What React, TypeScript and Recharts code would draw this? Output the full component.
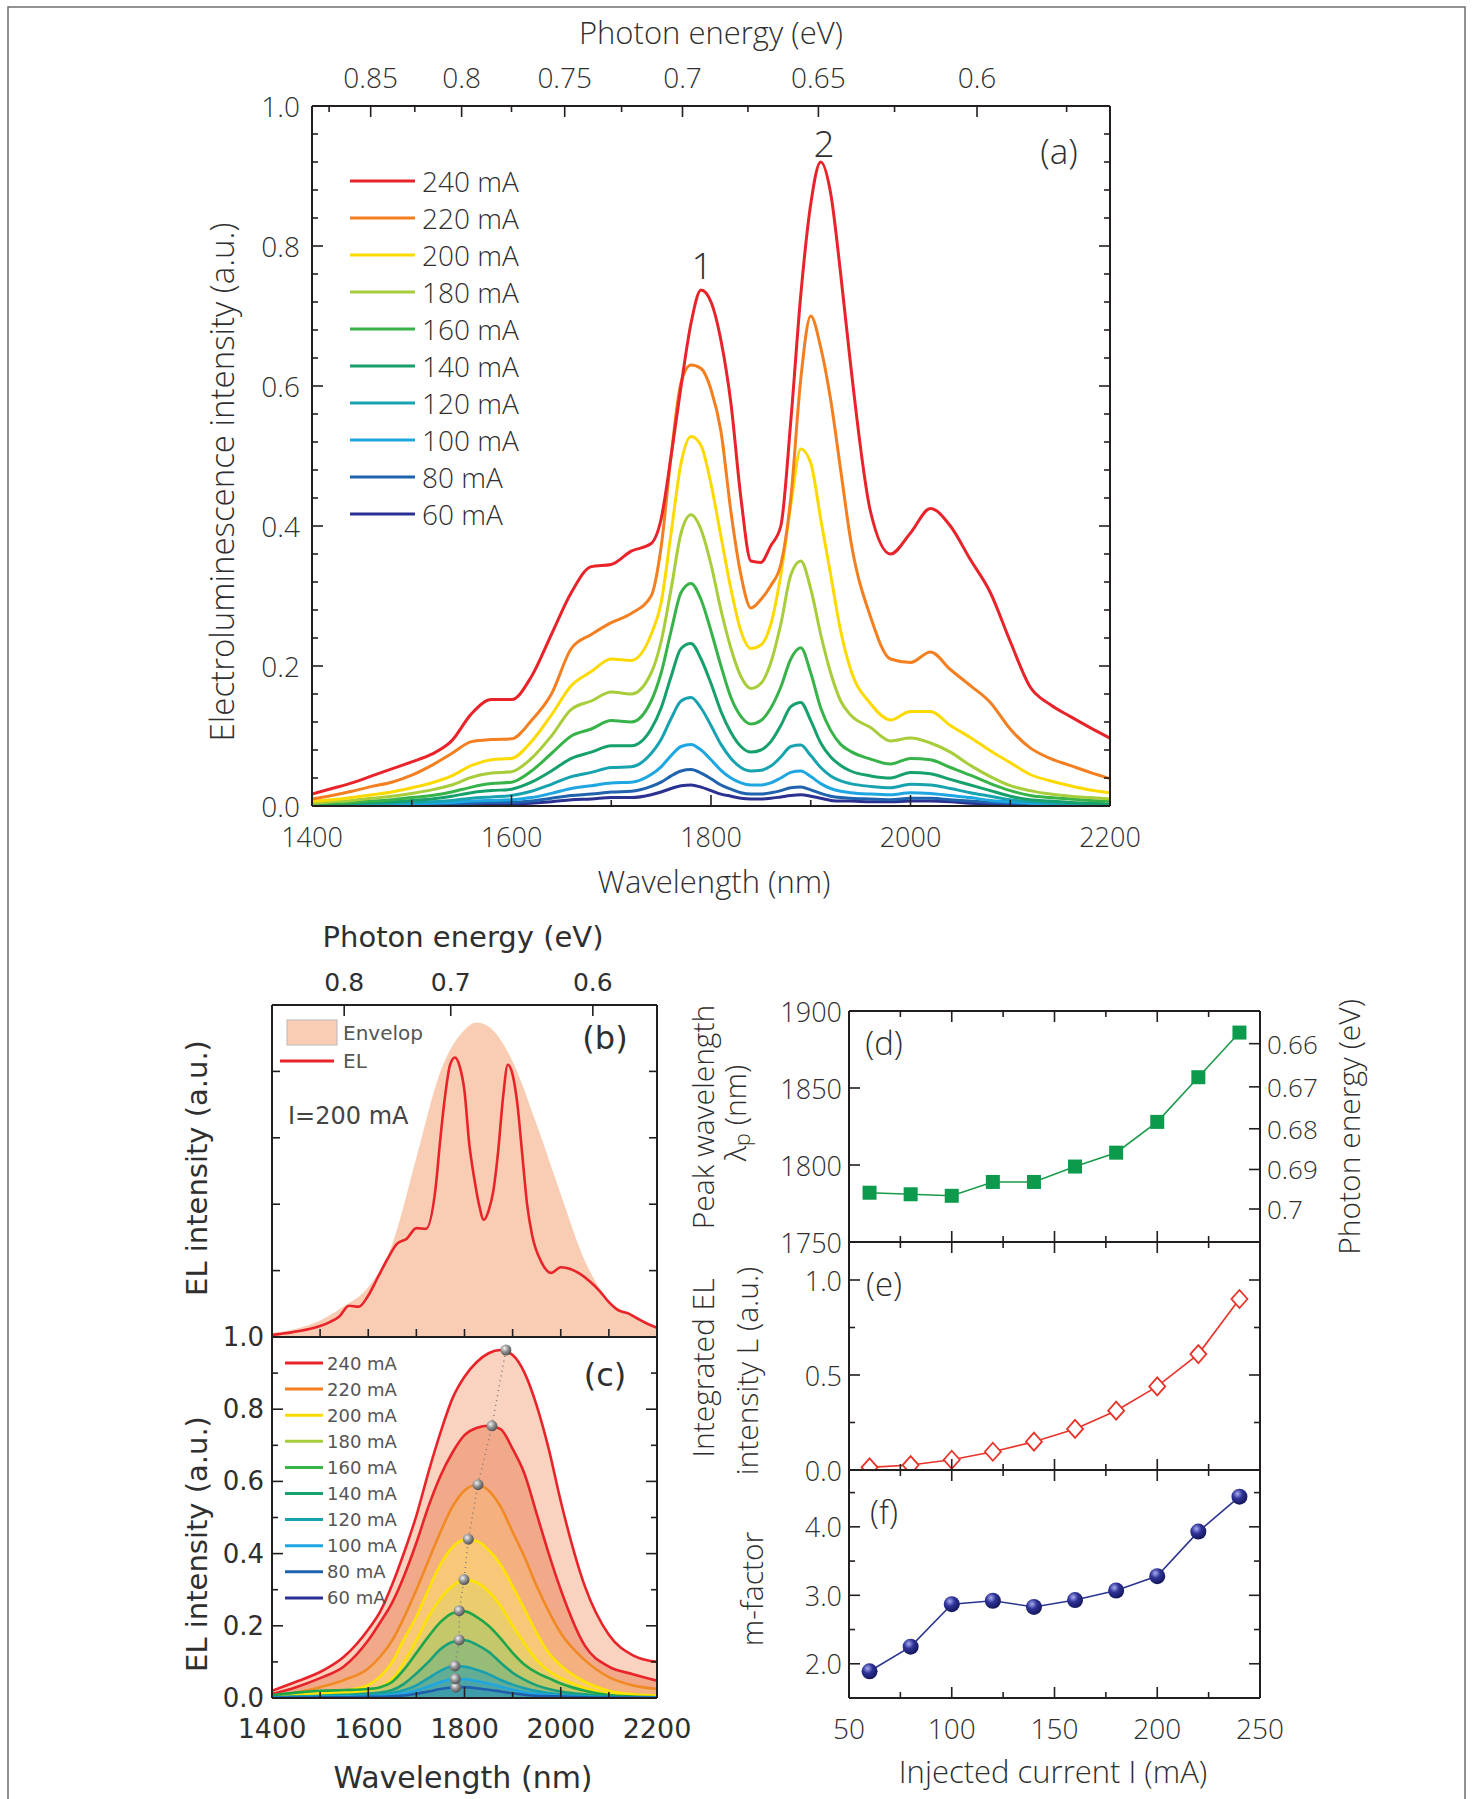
import React from 'react';
import { ComposedChart, Line, Area, XAxis, YAxis } from 'recharts';

const INK = '#231f20';
const TXT = '#2f2f2f';
const SANS = "'Open Sans', 'Noto Sans', sans-serif";
const ROUND = "'DejaVu Sans', 'Noto Sans', sans-serif";
const LIGHT = 300;
const HC = 1240; // eV*nm, wavelength <-> photon energy

// ---------- (a) EL spectra at different currents ----------
const currents = [240, 220, 200, 180, 160, 140, 120, 100, 80, 60];
const seriesKeys = currents.map((c) => `i${c}`);
const specColors = ['#e8232a', '#f47f20', '#fcd900', '#a7cd3a', '#37b34a', '#16a06c', '#17a2b0', '#1ea6e2', '#1f63ae', '#2b3190'];

const wlA = [
  1400, 1420, 1440, 1460, 1480, 1500, 1520, 1540, 1560, 1580, 1600, 1620, 1640, 1660, 1680, 1700, 1720, 1740,
  1750, 1760, 1770, 1780, 1790, 1800, 1810, 1820, 1830, 1840, 1850, 1860, 1870, 1880, 1890, 1900, 1910, 1920, 1930, 1940,
  1960, 1980, 2000, 2020, 2040, 2060, 2080, 2100, 2120, 2140, 2160, 2180, 2200,
];
const spec240 = [
  0.017, 0.025, 0.033, 0.043, 0.053, 0.063, 0.074, 0.093, 0.132, 0.152, 0.152, 0.185, 0.245, 0.305, 0.342, 0.345, 0.364, 0.375,
  0.41, 0.5, 0.6, 0.69, 0.737, 0.72, 0.665, 0.575, 0.44, 0.35, 0.348, 0.372, 0.4, 0.55, 0.73, 0.86, 0.92, 0.875, 0.76, 0.63,
  0.42, 0.36, 0.39, 0.425, 0.4, 0.352, 0.305, 0.235, 0.17, 0.145, 0.128, 0.112, 0.097,
];
const spec220 = [
  0.01, 0.015, 0.021, 0.028, 0.034, 0.044, 0.058, 0.075, 0.092, 0.095, 0.096, 0.122, 0.16, 0.225, 0.245, 0.262, 0.275, 0.3,
  0.37, 0.5, 0.605, 0.63, 0.625, 0.595, 0.535, 0.42, 0.33, 0.283, 0.295, 0.315, 0.345, 0.44, 0.61, 0.7, 0.655, 0.58, 0.48, 0.38,
  0.27, 0.21, 0.205, 0.22, 0.195, 0.172, 0.148, 0.11, 0.083, 0.068, 0.058, 0.048, 0.039,
];
const spec200 = [
  0.007, 0.009, 0.012, 0.016, 0.02, 0.026, 0.033, 0.043, 0.058, 0.066, 0.068, 0.092, 0.13, 0.172, 0.192, 0.21, 0.208, 0.245,
  0.29, 0.39, 0.49, 0.528, 0.515, 0.46, 0.385, 0.31, 0.25, 0.225, 0.23, 0.26, 0.33, 0.43, 0.51, 0.49, 0.41, 0.33, 0.25, 0.195,
  0.146, 0.123, 0.135, 0.135, 0.115, 0.098, 0.079, 0.062, 0.045, 0.036, 0.029, 0.023, 0.019,
];
const spec180 = [
  0.004, 0.006, 0.008, 0.011, 0.014, 0.018, 0.023, 0.03, 0.041, 0.047, 0.049, 0.068, 0.1, 0.138, 0.15, 0.163, 0.16, 0.19,
  0.235, 0.31, 0.39, 0.416, 0.395, 0.345, 0.28, 0.225, 0.185, 0.168, 0.175, 0.205, 0.26, 0.33, 0.35, 0.31, 0.245, 0.19, 0.15, 0.13,
  0.112, 0.093, 0.097, 0.09, 0.077, 0.058, 0.042, 0.029, 0.022, 0.017, 0.014, 0.012, 0.01,
];
const spec160 = [
  0.003, 0.004, 0.005, 0.007, 0.009, 0.012, 0.015, 0.02, 0.027, 0.032, 0.034, 0.05, 0.075, 0.1, 0.11, 0.122, 0.12, 0.15,
  0.19, 0.25, 0.305, 0.318, 0.295, 0.25, 0.2, 0.155, 0.128, 0.117, 0.122, 0.14, 0.17, 0.21, 0.226, 0.19, 0.14, 0.108, 0.088, 0.078,
  0.067, 0.06, 0.068, 0.066, 0.055, 0.044, 0.032, 0.022, 0.015, 0.012, 0.01, 0.008, 0.007,
];
const spec140 = [
  0.002, 0.003, 0.004, 0.005, 0.006, 0.008, 0.01, 0.014, 0.019, 0.022, 0.024, 0.034, 0.05, 0.068, 0.077, 0.086, 0.086, 0.11,
  0.14, 0.185, 0.225, 0.232, 0.21, 0.175, 0.135, 0.105, 0.085, 0.077, 0.08, 0.092, 0.115, 0.142, 0.148, 0.122, 0.09, 0.07, 0.058, 0.05,
  0.043, 0.04, 0.048, 0.046, 0.038, 0.03, 0.022, 0.014, 0.009, 0.007, 0.005, 0.004, 0.003,
];
const spec120 = [
  0.001, 0.002, 0.002, 0.003, 0.004, 0.005, 0.006, 0.008, 0.011, 0.013, 0.015, 0.021, 0.031, 0.042, 0.048, 0.055, 0.056, 0.075,
  0.095, 0.125, 0.15, 0.155, 0.14, 0.115, 0.088, 0.068, 0.055, 0.05, 0.051, 0.057, 0.07, 0.085, 0.087, 0.072, 0.055, 0.043, 0.036, 0.032,
  0.028, 0.026, 0.031, 0.03, 0.025, 0.019, 0.014, 0.009, 0.006, 0.004, 0.003, 0.002, 0.002,
];
const spec100 = [
  0.001, 0.001, 0.001, 0.002, 0.002, 0.003, 0.004, 0.005, 0.007, 0.008, 0.009, 0.012, 0.018, 0.025, 0.029, 0.033, 0.034, 0.045,
  0.056, 0.072, 0.085, 0.088, 0.08, 0.066, 0.051, 0.04, 0.033, 0.03, 0.03, 0.033, 0.04, 0.048, 0.05, 0.042, 0.032, 0.025, 0.021, 0.019,
  0.017, 0.016, 0.019, 0.018, 0.015, 0.012, 0.008, 0.006, 0.004, 0.003, 0.002, 0.002, 0.001,
];
const spec80 = [
  0, 0.001, 0.001, 0.001, 0.001, 0.002, 0.002, 0.003, 0.004, 0.005, 0.005, 0.007, 0.011, 0.015, 0.017, 0.02, 0.021, 0.028,
  0.034, 0.043, 0.05, 0.052, 0.047, 0.039, 0.03, 0.024, 0.019, 0.017, 0.017, 0.019, 0.022, 0.026, 0.027, 0.023, 0.018, 0.014, 0.012, 0.011,
  0.01, 0.009, 0.011, 0.011, 0.009, 0.007, 0.005, 0.004, 0.003, 0.002, 0.001, 0.001, 0.001,
];
const spec60 = [
  0, 0, 0.001, 0.001, 0.001, 0.001, 0.001, 0.002, 0.002, 0.003, 0.003, 0.004, 0.006, 0.009, 0.01, 0.012, 0.012, 0.016,
  0.02, 0.025, 0.029, 0.03, 0.027, 0.022, 0.017, 0.014, 0.011, 0.01, 0.01, 0.011, 0.013, 0.015, 0.016, 0.014, 0.011, 0.008, 0.007, 0.007,
  0.006, 0.006, 0.007, 0.007, 0.006, 0.004, 0.003, 0.002, 0.002, 0.001, 0.001, 0.001, 0,
];
const specSeries = [spec240, spec220, spec200, spec180, spec160, spec140, spec120, spec100, spec80, spec60];

// ---------- (b) EL at 200 mA and its envelope ----------
const elB = [
  0.006, 0.01, 0.014, 0.019, 0.025, 0.033, 0.045, 0.062, 0.094, 0.091, 0.125, 0.18, 0.235, 0.281, 0.296, 0.328, 0.326, 0.45,
  0.6, 0.73, 0.82, 0.842, 0.815, 0.74, 0.58, 0.48, 0.4, 0.353, 0.38, 0.441, 0.56, 0.72, 0.82, 0.79, 0.7, 0.55, 0.4, 0.31,
  0.225, 0.193, 0.21, 0.205, 0.19, 0.168, 0.14, 0.105, 0.08, 0.071, 0.055, 0.04, 0.028,
];
const wlEnv = [1400, 1450, 1500, 1550, 1600, 1650, 1700, 1750, 1800, 1825, 1850, 1900, 1950, 2000, 2050, 2100, 2150, 2200];
const envelope = [0.012, 0.025, 0.05, 0.093, 0.15, 0.28, 0.54, 0.8, 0.925, 0.947, 0.935, 0.83, 0.64, 0.43, 0.23, 0.11, 0.068, 0.03];

// ---------- (c) fitted envelopes ----------
const wlC = [1400, 1450, 1500, 1550, 1600, 1625, 1650, 1675, 1700, 1725, 1750, 1775, 1800, 1825, 1850, 1875, 1900, 1925, 1950, 1975, 2000, 2050, 2100, 2150, 2200];
const fit240 = [0.02, 0.045, 0.072, 0.115, 0.19, 0.24, 0.315, 0.405, 0.505, 0.625, 0.735, 0.83, 0.89, 0.93, 0.955, 0.964, 0.95, 0.9, 0.81, 0.69, 0.545, 0.31, 0.175, 0.118, 0.1];
const fit220 = [0.011, 0.03, 0.055, 0.088, 0.16, 0.21, 0.265, 0.34, 0.43, 0.53, 0.615, 0.68, 0.728, 0.748, 0.754, 0.745, 0.69, 0.62, 0.51, 0.4, 0.3, 0.145, 0.087, 0.066, 0.048];
const fit200 = [0.006, 0.015, 0.03, 0.05, 0.082, 0.115, 0.16, 0.225, 0.3, 0.38, 0.46, 0.53, 0.575, 0.59, 0.575, 0.53, 0.46, 0.39, 0.31, 0.24, 0.18, 0.105, 0.058, 0.035, 0.025];
const fit180 = [0.003, 0.008, 0.013, 0.02, 0.036, 0.06, 0.1, 0.165, 0.225, 0.3, 0.37, 0.418, 0.438, 0.435, 0.41, 0.37, 0.31, 0.245, 0.18, 0.125, 0.09, 0.045, 0.02, 0.01, 0.006];
const fit160 = [0.002, 0.005, 0.009, 0.014, 0.022, 0.03, 0.052, 0.1, 0.16, 0.225, 0.275, 0.31, 0.328, 0.32, 0.295, 0.255, 0.2, 0.15, 0.105, 0.075, 0.055, 0.028, 0.012, 0.006, 0.004];
const fit140 = [0.008, 0.015, 0.02, 0.022, 0.025, 0.03, 0.045, 0.08, 0.125, 0.17, 0.21, 0.235, 0.24, 0.225, 0.2, 0.165, 0.125, 0.092, 0.07, 0.055, 0.04, 0.02, 0.008, 0.004, 0.002];
const fit120 = [0.002, 0.004, 0.006, 0.009, 0.012, 0.015, 0.022, 0.04, 0.068, 0.1, 0.135, 0.155, 0.16, 0.148, 0.128, 0.098, 0.07, 0.05, 0.035, 0.025, 0.018, 0.01, 0.005, 0.002, 0.001];
const fit100 = [0.001, 0.003, 0.005, 0.006, 0.008, 0.01, 0.014, 0.022, 0.035, 0.055, 0.075, 0.088, 0.087, 0.078, 0.066, 0.05, 0.037, 0.027, 0.019, 0.014, 0.01, 0.005, 0.003, 0.001, 0.001];
const fit80 = [0.001, 0.002, 0.003, 0.004, 0.005, 0.006, 0.008, 0.013, 0.021, 0.032, 0.044, 0.052, 0.052, 0.047, 0.04, 0.031, 0.023, 0.016, 0.011, 0.008, 0.006, 0.003, 0.002, 0.001, 0.001];
const fit60 = [0, 0.001, 0.002, 0.002, 0.003, 0.003, 0.005, 0.007, 0.012, 0.018, 0.025, 0.029, 0.03, 0.027, 0.023, 0.018, 0.013, 0.009, 0.006, 0.005, 0.004, 0.002, 0.001, 0.001, 0];
const fitSeries = [fit240, fit220, fit200, fit180, fit160, fit140, fit120, fit100, fit80, fit60];
const fitLineColors = ['#e8232a', '#e8232a', '#f08a24', '#fce300', '#fce300', '#1da64a', '#17a07a', '#17a0b0', '#1ea6e2', '#1f5fae'];
const fitFillColors = ['#f9d3c0', '#f2a98a', '#f4b07e', '#f8c878', '#eccd6e', '#c4c76a', '#97bc78', '#64ad95', '#4ca6a6', '#3f9dab'];

// ---------- (d)(e)(f) vs injected current ----------
const currentI = [60, 80, 100, 120, 140, 160, 180, 200, 220, 240];
const peakWl = [1782, 1781, 1780, 1789, 1789, 1799, 1808, 1828, 1857, 1886];
const peakHeight = [0.03, 0.053, 0.089, 0.161, 0.242, 0.328, 0.44, 0.591, 0.754, 0.964];
const intL = [0.014, 0.026, 0.054, 0.096, 0.149, 0.216, 0.312, 0.44, 0.61, 0.9];
const mFactor = [1.89, 2.25, 2.87, 2.92, 2.83, 2.93, 3.07, 3.28, 3.93, 4.44];

// ---------- tick lists ----------
const waveTicks = [1400, 1500, 1600, 1700, 1800, 1900, 2000, 2100, 2200];
const eVTicksA = [0.875, 0.85, 0.825, 0.8, 0.775, 0.75, 0.725, 0.7, 0.675, 0.65, 0.625, 0.6, 0.575];
const eVTicksB = [0.8, 0.7, 0.6];
const eVTicksD = [0.66, 0.67, 0.68, 0.69, 0.7];
const intAxisA = Array.from({ length: 26 }, (_, i) => (i * 4) / 100);
const intAxisC = [0, 0.1, 0.2, 0.3, 0.4, 0.5, 0.6, 0.7, 0.8, 0.9, 1];
const intAxisB = [0, 0.2, 0.4, 0.6, 0.8, 1];
const currentTicks = [50, 75, 100, 125, 150, 175, 200, 225, 250];
const peakAxis = [1750, 1800, 1850, 1900];
const lAxis = [0, 0.25, 0.5, 0.75, 1];
const mAxis = [2, 2.5, 3, 3.5, 4, 4.5];

const specRows = wlA.map((wl, i) => {
  const row: Record<string, number> = { wl, el: elB[i] };
  seriesKeys.forEach((k, j) => (row[k] = specSeries[j][i]));
  return row;
});
const envRows = wlEnv.map((wl, i) => ({ wl, env: envelope[i] }));
const fitRows = wlC.map((wl, i) => {
  const row: Record<string, number> = { wl };
  seriesKeys.forEach((k, j) => (row[k] = fitSeries[j][i]));
  return row;
});
const peakRows = currentI.map((c, i) => ({ wl: peakWl[i], h: peakHeight[i] }));
const currentRows = currentI.map((c, i) => ({ c, wl: peakWl[i], L: intL[i], m: mFactor[i] }));

const near = (v: number, step: number) => Math.abs(v / step - Math.round(v / step)) < 1e-6;
const eVLabel = (wl: number) => String(Math.round((HC / wl) * 100) / 100);

type Side = 'bottom' | 'top' | 'left' | 'right';
interface TickCfg {
  side: Side;
  major: (v: number) => boolean;
  label?: (v: number) => string;
  off?: number;
  len?: number;
  minor?: number;
  font?: string;
  size?: number;
}

// inward tick marks + optional label, drawn from the axis line position
function mkTick(c: TickCfg) {
  const len = c.len ?? 11;
  const minor = c.minor ?? 6;
  const off = c.off ?? 0;
  const font = c.font ?? SANS;
  return (p: any) => {
    const { x, y, payload } = p;
    const v = payload.value as number;
    const isMaj = c.major(v);
    const L = isMaj ? len : minor;
    const dir = { bottom: [0, -L], top: [0, L], left: [L, 0], right: [-L, 0] }[c.side];
    const tp = { bottom: [0, off], top: [0, -off], left: [-off, 0], right: [off, 0] }[c.side];
    const anchor = c.side === 'left' ? 'end' : c.side === 'right' ? 'start' : 'middle';
    const txt = isMaj && c.label ? c.label(v) : '';
    return (
      <g>
        {L > 0 && <line x1={x} y1={y} x2={x + dir[0]} y2={y + dir[1]} stroke={INK} strokeWidth={1.6} />}
        {txt !== '' && (
          <text x={x + tp[0]} y={y + tp[1]} textAnchor={anchor} dominantBaseline="central" fontFamily={font}
            fontWeight={font === SANS ? LIGHT : 400} fontSize={c.size ?? 26} fill={TXT}>
            {txt}
          </text>
        )}
      </g>
    );
  };
}

const axisLine = { stroke: INK, strokeWidth: 2 };
// axes are 1px thick boxes (a 0px axis is not drawn); margins below are reduced by 1 to compensate
const common = { type: 'number' as const, allowDataOverflow: true, interval: 0 as const, tickSize: 0, tickMargin: 0, tickLine: false, axisLine };

const sphere = (id: string, r: number) => (p: any) => {
  const { cx, cy } = p;
  if (cx == null || cy == null) return <g />;
  return <circle cx={cx} cy={cy} r={r} fill={`url(#${id})`} />;
};
const square = (p: any) => {
  const { cx, cy } = p;
  if (cx == null || cy == null) return <g />;
  return <rect x={cx - 7} y={cy - 7} width={14} height={14} fill="#0c9a4c" />;
};
const diamond = (p: any) => {
  const { cx, cy } = p;
  if (cx == null || cy == null) return <g />;
  return <path d={`M${cx},${cy - 9} L${cx + 8},${cy} L${cx},${cy + 9} L${cx - 8},${cy} Z`} fill="#fff" stroke="#e8332a" strokeWidth={1.8} />;
};

const Pos: React.FC<{ left: number; top: number; children: React.ReactNode }> = ({ left, top, children }) => (
  <div style={{ position: 'absolute', left, top }}>{children}</div>
);

const hidden = { stroke: 'none', dot: false, activeDot: false, isAnimationActive: false, legendType: 'none' as const };

export default function App() {
  return (
    <div style={{ position: 'absolute', left: 0, top: 0, width: 1473, height: 1799, overflow: 'hidden', background: '#fff' }}>
      <style>{'.recharts-surface { overflow: visible; }'}</style>
      {/* (a) */}
      <Pos left={172} top={6}>
        <ComposedChart width={998} height={860} data={specRows} margin={{ top: 99, right: 59, bottom: 59, left: 139 }}>
          <XAxis xAxisId="b" {...common} dataKey="wl" domain={[1400, 2200]} ticks={waveTicks} height={1}
            tick={mkTick({ side: 'bottom', major: (v) => near(v, 200), label: String, off: 30, size: 27 })} />
          <XAxis xAxisId="t" {...common} orientation="top" dataKey="wl" domain={[1400, 2200]} ticks={eVTicksA.map((e) => HC / e)} height={1}
            tick={mkTick({ side: 'top', major: (v) => near(HC / v, 0.05), label: eVLabel, off: 29, size: 28 })} />
          <YAxis yAxisId="l" {...common} domain={[0, 1]} ticks={intAxisA} width={1}
            tick={mkTick({ side: 'left', major: (v) => near(v, 0.2), label: (v) => v.toFixed(1), off: 12, size: 28 })} />
          <YAxis yAxisId="r" {...common} orientation="right" domain={[0, 1]} ticks={intAxisA} width={1}
            tick={mkTick({ side: 'right', major: (v) => near(v, 0.2) })} />
          {seriesKeys.slice().reverse().map((k) => {
            const j = seriesKeys.indexOf(k);
            return <Line key={k} xAxisId="b" yAxisId="l" type="monotone" dataKey={k} stroke={specColors[j]} strokeWidth={3} dot={false} activeDot={false} isAnimationActive={false} />;
          })}
          <Line xAxisId="t" yAxisId="r" dataKey="i240" {...hidden} />
        </ComposedChart>
      </Pos>

      {/* (b) */}
      <Pos left={172} top={955}>
        <ComposedChart width={515} height={392} data={specRows} margin={{ top: 49, right: 29, bottom: 9, left: 99 }}>
          <XAxis xAxisId="b" {...common} dataKey="wl" domain={[1400, 2200]} ticks={waveTicks} height={1}
            tick={mkTick({ side: 'bottom', major: () => true, len: 8 })} />
          <XAxis xAxisId="t" {...common} orientation="top" dataKey="wl" domain={[1400, 2200]} ticks={eVTicksB.map((e) => HC / e)} height={1}
            tick={mkTick({ side: 'top', major: () => true, label: eVLabel, off: 23, size: 25, font: ROUND })} />
          <YAxis yAxisId="l" {...common} domain={[0, 1]} ticks={intAxisB} width={1} tick={mkTick({ side: 'left', major: () => true, len: 8 })} />
          <YAxis yAxisId="r" {...common} orientation="right" domain={[0, 1]} ticks={intAxisB} width={1} tick={mkTick({ side: 'right', major: () => true, len: 8 })} />
          <Area xAxisId="b" yAxisId="l" data={envRows} type="monotone" dataKey="env" stroke="none" fill="#f9cdb4" fillOpacity={1} isAnimationActive={false} />
          <Line xAxisId="b" yAxisId="l" type="monotone" dataKey="el" stroke="#e8232a" strokeWidth={2.6} dot={false} activeDot={false} isAnimationActive={false} />
          <Line xAxisId="t" yAxisId="r" dataKey="el" {...hidden} />
        </ComposedChart>
      </Pos>

      {/* (c) */}
      <Pos left={172} top={1327}>
        <ComposedChart width={515} height={431} data={fitRows} margin={{ top: 9, right: 29, bottom: 59, left: 99 }}>
          <defs>
            <radialGradient id="graySphere" cx="38%" cy="35%" r="65%">
              <stop offset="0%" stopColor="#f2f2f2" />
              <stop offset="55%" stopColor="#8c8c8c" />
              <stop offset="100%" stopColor="#555" />
            </radialGradient>
          </defs>
          <XAxis xAxisId="b" {...common} dataKey="wl" domain={[1400, 2200]} ticks={waveTicks} height={1}
            tick={mkTick({ side: 'bottom', major: (v) => near(v, 200), label: String, off: 30, size: 27, font: ROUND })} />
          <XAxis xAxisId="t" {...common} orientation="top" dataKey="wl" domain={[1400, 2200]} ticks={waveTicks} height={1}
            tick={mkTick({ side: 'top', major: () => true, len: 0, minor: 0 })} />
          <YAxis yAxisId="l" {...common} domain={[0, 1]} ticks={intAxisC} width={1}
            tick={mkTick({ side: 'left', major: (v) => near(v, 0.2), label: (v) => v.toFixed(1), off: 8, size: 26, font: ROUND })} />
          <YAxis yAxisId="r" {...common} orientation="right" domain={[0, 1]} ticks={intAxisC} width={1} tick={mkTick({ side: 'right', major: (v) => near(v, 0.2) })} />
          {seriesKeys.map((k, j) => (
            <Area key={`f${k}`} xAxisId="b" yAxisId="l" type="monotone" dataKey={k} stroke="none" fill={fitFillColors[j]} fillOpacity={1} isAnimationActive={false} />
          ))}
          {seriesKeys.map((k, j) => (
            <Line key={`l${k}`} xAxisId="b" yAxisId="l" type="monotone" dataKey={k} stroke={fitLineColors[j]} strokeWidth={2.6} dot={false} activeDot={false} isAnimationActive={false} />
          ))}
          <Line xAxisId="b" yAxisId="l" data={peakRows} dataKey="h" type="linear" stroke="#7a7a7a" strokeWidth={1.5} strokeDasharray="1 4" dot={sphere('graySphere', 5.5)} activeDot={false} isAnimationActive={false} />
          <Line xAxisId="t" yAxisId="r" dataKey="i240" {...hidden} />
        </ComposedChart>
      </Pos>

      {/* (d) */}
      <Pos left={749} top={1001}>
        <ComposedChart width={621} height={251} data={currentRows} margin={{ top: 9, right: 109, bottom: 9, left: 99 }}>
          <XAxis xAxisId="b" {...common} dataKey="c" domain={[50, 250]} ticks={currentTicks} height={1} tick={mkTick({ side: 'bottom', major: (v) => near(v, 50) })} />
          <XAxis xAxisId="t" {...common} orientation="top" dataKey="c" domain={[50, 250]} ticks={currentTicks} height={1} tick={mkTick({ side: 'top', major: (v) => near(v, 50) })} />
          <YAxis yAxisId="l" {...common} domain={[1750, 1900]} ticks={peakAxis} width={1}
            tick={mkTick({ side: 'left', major: () => true, label: String, off: 7, size: 27 })} />
          <YAxis yAxisId="r" {...common} orientation="right" domain={[1750, 1900]} ticks={eVTicksD.map((e) => HC / e)} width={1}
            tick={mkTick({ side: 'right', major: () => true, label: eVLabel, off: 7, size: 26 })} />
          <Line xAxisId="b" yAxisId="l" dataKey="wl" type="linear" stroke="#1b9a4b" strokeWidth={1.6} dot={square} activeDot={false} isAnimationActive={false} />
          <Line xAxisId="t" yAxisId="r" dataKey="wl" {...hidden} />
        </ComposedChart>
      </Pos>

      {/* (e) */}
      <Pos left={749} top={1232}>
        <ComposedChart width={531} height={248} data={currentRows} margin={{ top: 9, right: 19, bottom: 9, left: 99 }}>
          <XAxis xAxisId="b" {...common} dataKey="c" domain={[50, 250]} ticks={currentTicks} height={1} tick={mkTick({ side: 'bottom', major: (v) => near(v, 50) })} />
          <XAxis xAxisId="t" {...common} orientation="top" dataKey="c" domain={[50, 250]} ticks={currentTicks} height={1} tick={mkTick({ side: 'top', major: (v) => near(v, 50) })} />
          <YAxis yAxisId="l" {...common} domain={[0, 1.2]} ticks={lAxis} width={1}
            tick={mkTick({ side: 'left', major: (v) => near(v, 0.5), label: (v) => v.toFixed(1), off: 7, size: 27 })} />
          <YAxis yAxisId="r" {...common} orientation="right" domain={[0, 1.2]} ticks={lAxis} width={1} tick={mkTick({ side: 'right', major: (v) => near(v, 0.5) })} />
          <Line xAxisId="b" yAxisId="l" dataKey="L" type="linear" stroke="#e8332a" strokeWidth={1.6} dot={diamond} activeDot={false} isAnimationActive={false} />
          <Line xAxisId="t" yAxisId="r" dataKey="L" {...hidden} />
        </ComposedChart>
      </Pos>

      {/* (f) */}
      <Pos left={749} top={1460}>
        <ComposedChart width={531} height={298} data={currentRows} margin={{ top: 9, right: 19, bottom: 59, left: 99 }}>
          <defs>
            <radialGradient id="navySphere" cx="38%" cy="32%" r="68%">
              <stop offset="0%" stopColor="#a9acf0" />
              <stop offset="45%" stopColor="#2f3398" />
              <stop offset="100%" stopColor="#14175a" />
            </radialGradient>
          </defs>
          <XAxis xAxisId="b" {...common} dataKey="c" domain={[50, 250]} ticks={currentTicks} height={1}
            tick={mkTick({ side: 'bottom', major: (v) => near(v, 50), label: String, off: 30, size: 28 })} />
          <XAxis xAxisId="t" {...common} orientation="top" dataKey="c" domain={[50, 250]} ticks={currentTicks} height={1} tick={mkTick({ side: 'top', major: (v) => near(v, 50) })} />
          <YAxis yAxisId="l" {...common} domain={[1.5, 4.83]} ticks={mAxis} width={1}
            tick={mkTick({ side: 'left', major: (v) => near(v, 1), label: (v) => v.toFixed(1), off: 7, size: 27 })} />
          <YAxis yAxisId="r" {...common} orientation="right" domain={[1.5, 4.83]} ticks={mAxis} width={1} tick={mkTick({ side: 'right', major: (v) => near(v, 1) })} />
          <Line xAxisId="b" yAxisId="l" dataKey="m" type="linear" stroke="#2b3590" strokeWidth={1.6} dot={sphere('navySphere', 8)} activeDot={false} isAnimationActive={false} />
          <Line xAxisId="t" yAxisId="r" dataKey="m" {...hidden} />
        </ComposedChart>
      </Pos>

      {/* titles, legends and panel labels */}
      <svg width={1473} height={1799} style={{ position: 'absolute', left: 0, top: 0, pointerEvents: 'none' }}>
        <rect x={8} y={7} width={1457} height={1800} fill="none" stroke="#6d6d6d" strokeWidth={1.5} />
        <g fontFamily={SANS} fontWeight={LIGHT} fill={TXT}>
          <text x={711} y={32} textAnchor="middle" dominantBaseline="central" fontSize={31}>Photon energy (eV)</text>
          <text x={714} y={881} textAnchor="middle" dominantBaseline="central" fontSize={31}>Wavelength (nm)</text>
          <text x={221} y={482} textAnchor="middle" dominantBaseline="central" fontSize={33} transform="rotate(-90 221 482)">Electroluminescence intensity (a.u.)</text>
          <text x={702} y={264} textAnchor="middle" dominantBaseline="central" fontSize={37}>1</text>
          <text x={824} y={142} textAnchor="middle" dominantBaseline="central" fontSize={37}>2</text>
          <text x={1059} y={150} textAnchor="middle" dominantBaseline="central" fontSize={35}>(a)</text>
          {currents.map((c, i) => (
            <g key={`la${c}`}>
              <line x1={350} x2={415} y1={181 + 37 * i} y2={181 + 37 * i} stroke={specColors[i]} strokeWidth={3} />
              <text x={422} y={181 + 37 * i} dominantBaseline="central" fontSize={28}>{`${c} mA`}</text>
            </g>
          ))}
        </g>
        <g fontFamily={ROUND} fill={TXT}>
          <text x={463} y={937} textAnchor="middle" dominantBaseline="central" fontSize={29}>Photon energy (eV)</text>
          <text x={197} y={1168} textAnchor="middle" dominantBaseline="central" fontSize={29} transform="rotate(-90 197 1168)">EL intensity (a.u.)</text>
          <text x={197} y={1544} textAnchor="middle" dominantBaseline="central" fontSize={29} transform="rotate(-90 197 1544)">EL intensity (a.u.)</text>
          <text x={463} y={1777} textAnchor="middle" dominantBaseline="central" fontSize={30}>Wavelength (nm)</text>
          <rect x={287} y={1020} width={50} height={25} fill="#f9cdb4" stroke="#b9b9b9" strokeWidth={1} />
          <text x={343} y={1033} dominantBaseline="central" fontSize={20} fill="#555">Envelop</text>
          <line x1={280} x2={334} y1={1061} y2={1061} stroke="#e8232a" strokeWidth={3} />
          <text x={343} y={1061} dominantBaseline="central" fontSize={20} fill="#555">EL</text>
          <text x={288} y={1116} dominantBaseline="central" fontSize={24} fill="#444">I=200 mA</text>
          <text x={605} y={1038} textAnchor="middle" dominantBaseline="central" fontSize={32}>(b)</text>
          <text x={605} y={1375} textAnchor="middle" dominantBaseline="central" fontSize={32}>(c)</text>
          {currents.map((c, i) => (
            <g key={`lc${c}`}>
              <line x1={285} x2={323} y1={1363 + 26.1 * i} y2={1363 + 26.1 * i} stroke={specColors[i]} strokeWidth={3} />
              <text x={327} y={1363 + 26.1 * i} dominantBaseline="central" fontSize={18} fill="#555">{`${c} mA`}</text>
            </g>
          ))}
        </g>
        <g fontFamily={SANS} fontWeight={LIGHT} fill={TXT}>
          <text x={702} y={1117} textAnchor="middle" dominantBaseline="central" fontSize={30} transform="rotate(-90 702 1117)">Peak wavelength</text>
          <text x={734} y={1113} textAnchor="middle" dominantBaseline="central" fontSize={30} transform="rotate(-90 734 1113)">
            λ<tspan dy={7} fontSize={22}>p</tspan><tspan dy={-7}> (nm)</tspan>
          </text>
          <text x={1348} y={1127} textAnchor="middle" dominantBaseline="central" fontSize={30} transform="rotate(-90 1348 1127)">Photon energy (eV)</text>
          <text x={702} y={1368} textAnchor="middle" dominantBaseline="central" fontSize={30} transform="rotate(-90 702 1368)">Integrated EL</text>
          <text x={746} y={1371} textAnchor="middle" dominantBaseline="central" fontSize={30} transform="rotate(-90 746 1371)">intensity L (a.u.)</text>
          <text x={751} y={1589} textAnchor="middle" dominantBaseline="central" fontSize={30} transform="rotate(-90 751 1589)">m-factor</text>
          <text x={1053} y={1771} textAnchor="middle" dominantBaseline="central" fontSize={31}>Injected current I (mA)</text>
          <text x={884} y={1042} textAnchor="middle" dominantBaseline="central" fontSize={33}>(d)</text>
          <text x={884} y={1283} textAnchor="middle" dominantBaseline="central" fontSize={33}>(e)</text>
          <text x={884} y={1511} textAnchor="middle" dominantBaseline="central" fontSize={33}>(f)</text>
        </g>
      </svg>
    </div>
  );
}
